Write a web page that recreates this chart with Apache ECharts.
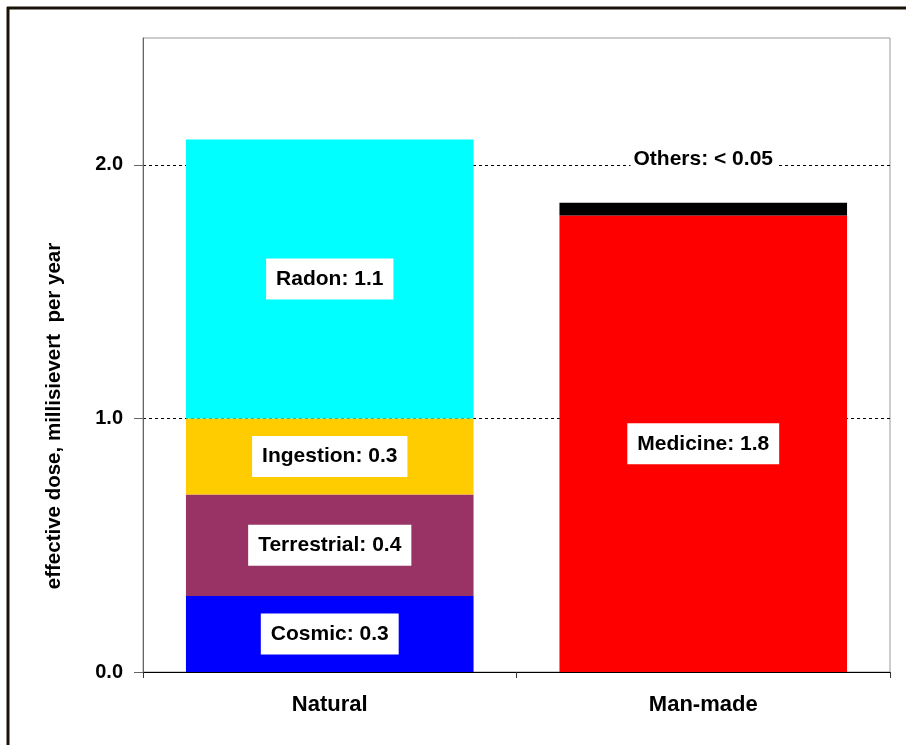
<!DOCTYPE html>
<html>
<head>
<meta charset="utf-8">
<title>Effective dose per year</title>
<script src="https://cdn.jsdelivr.net/npm/echarts@6/dist/echarts.min.js"></script>
<style>
  html, body { margin: 0; padding: 0; background: #fff; }
  #chart { width: 906px; height: 745px; }
</style>
</head>
<body>
<div id="chart"></div>
<script>
// Source categories and dose components (mSv per year)
const categories = ['Natural', 'Man-made'];
const cosmic      = [0.3, '-'];
const terrestrial = [0.4, '-'];
const ingestion   = [0.3, '-'];
const radon       = [1.1, '-'];
const medicine    = ['-', 1.8];
const others      = ['-', 0.05];
const yTicks = [0, 1, 2];
const yAxisTitle = 'effective dose, millisievert  per year';

const FONT = '"Liberation Sans", Arial, sans-serif';

const boxLabel = {
  show: true,
  position: 'inside',
  formatter: '{a}: {c}',
  backgroundColor: '#ffffff',
  padding: [10, 10],
  color: '#000',
  fontFamily: FONT,
  fontWeight: 'bold',
  fontSize: 21
};

function segment(name, data, color, label) {
  return {
    name: name,
    type: 'bar',
    stack: 'dose',
    barWidth: '77%',
    data: data,
    itemStyle: { color: color },
    label: label || boxLabel,
    emphasis: { disabled: true },
    z: 3
  };
}

const chart = echarts.init(document.getElementById('chart'), null, { renderer: 'canvas' });

chart.setOption({
  animation: false,
  backgroundColor: '#ffffff',
  grid: {
    left: 143, right: 16, top: 38, bottom: 73,
    show: true,
    borderColor: '#999',
    borderWidth: 1,
    backgroundColor: 'transparent'
  },
  xAxis: {
    type: 'category',
    data: categories,
    axisLine: { lineStyle: { color: '#000', width: 1 } },
    axisTick: { show: true, length: 6, lineStyle: { color: '#333' } },
    axisLabel: {
      margin: 22,
      color: '#000',
      fontFamily: FONT,
      fontWeight: 'bold',
      fontSize: 22
    }
  },
  yAxis: {
    type: 'value',
    min: yTicks[0],
    max: 2.5,
    interval: 1,
    axisLine: { show: true, lineStyle: { color: '#666', width: 1 } },
    axisTick: {
      show: true,
      length: 9,
      customValues: yTicks,
      lineStyle: { color: '#666' }
    },
    axisLabel: {
      margin: 20,
      color: '#000',
      fontFamily: FONT,
      fontWeight: 'bold',
      fontSize: 20,
      customValues: yTicks,
      formatter: v => v.toFixed(1)
    },
    splitLine: {
      show: true,
      showMinLine: false,
      lineStyle: { color: '#000', type: [3, 3], width: 1 }
    }
  },
  series: [
    segment('Cosmic', cosmic, '#0000ff'),
    segment('Terrestrial', terrestrial, '#993366'),
    segment('Ingestion', ingestion, '#ffcc00'),
    segment('Radon', radon, '#00ffff'),
    segment('Medicine', medicine, '#ff0000'),
    segment('Others', others, '#000000', {
      show: true,
      position: 'top',
      distance: 31,
      formatter: 'Others: < {c}',
      backgroundColor: '#ffffff',
      padding: [2, 3],
      color: '#000',
      fontFamily: FONT,
      fontWeight: 'bold',
      fontSize: 21
    })
  ],
  graphic: [
    {
      type: 'text',
      x: 54,
      y: 416,
      rotation: Math.PI / 2,
      style: {
        text: yAxisTitle,
        fill: '#000',
        font: 'bold 20.5px ' + FONT,
        textAlign: 'center',
        textVerticalAlign: 'middle'
      }
    },
    {
      type: 'line',
      shape: { x1: 8, y1: 7, x2: 8, y2: 745 },
      style: { stroke: '#1a1208', lineWidth: 3 }
    },
    {
      type: 'line',
      shape: { x1: 7, y1: 8, x2: 906, y2: 8 },
      style: { stroke: '#1a1208', lineWidth: 3 }
    }
  ]
});
</script>
</body>
</html>
